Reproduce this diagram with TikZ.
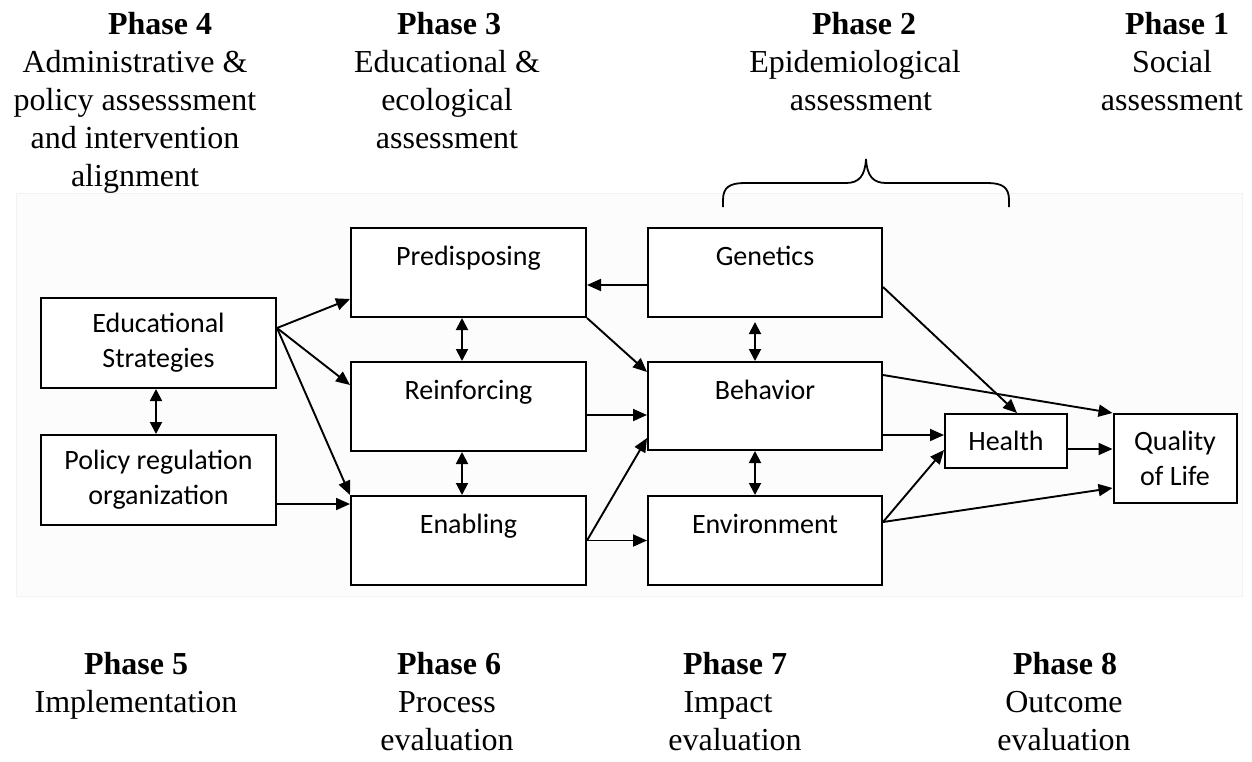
\documentclass[tikz,border=0pt]{standalone}
\usepackage{fontspec}
\setmainfont{Liberation Serif}
\newfontfamily\calfont{Carlito}
\usetikzlibrary{arrows.meta}
\begin{document}
\begin{tikzpicture}[x=1pt,y=-1pt,
  box/.style={draw, line width=2pt, inner sep=0pt, minimum width=235pt, minimum height=89pt,
    font=\calfont\fontsize{28}{35}\selectfont, align=center, fill=white},
  lab/.style={anchor=base, yshift=-38pt, inner sep=0pt, font=\calfont\fontsize{28}{35}\selectfont},
  hd/.style={anchor=base, inner sep=0pt, font=\fontsize{32}{38}\selectfont\bfseries},
  tx/.style={anchor=base, inner sep=0pt, font=\fontsize{32}{38}\selectfont},
  arr/.style={-{Triangle[length=14pt,width=12pt]}, line width=1.9pt},
  darr/.style={{Triangle[length=12pt,width=12pt]}-{Triangle[length=12pt,width=12pt]}, line width=1.9pt}
]
\useasboundingbox (0,0) rectangle (1252,761);
\fill[white] (0,0) rectangle (1252,761);
\draw[draw=black!5, fill=black!1] (16,193) rectangle (1242,596);

% phase texts (top)
\node[hd] (p4) at (160,34) {Phase 4};
\node[tx] (p4a) at (135,72) {Administrative \&};
\node[tx] (p4b) at (135,110) {policy assesssment};
\node[tx] (p4c) at (135,148) {and intervention};
\node[tx] (p4d) at (135,186) {alignment};
\node[hd] (p3) at (449,34) {Phase 3};
\node[tx] (p3a) at (447,72) {Educational \&};
\node[tx] (p3b) at (447,110) {ecological};
\node[tx] (p3c) at (447,148) {assessment};
\node[hd] (p2) at (864,34) {Phase 2};
\node[tx] (p2a) at (855,72) {Epidemiological};
\node[tx] (p2b) at (861,110) {assessment};
\node[hd] (p1) at (1177,34) {Phase 1};
\node[tx] (p1a) at (1172,72) {Social};
\node[tx] (p1b) at (1172,110) {assessment};
% phase texts (bottom)
\node[hd] (p5) at (136,674) {Phase 5};
\node[tx] (p5a) at (136,712) {Implementation};
\node[hd] (p6) at (449,674) {Phase 6};
\node[tx] (p6a) at (447,712) {Process};
\node[tx] (p6b) at (447,750) {evaluation};
\node[hd] (p7) at (735,674) {Phase 7};
\node[tx] (p7a) at (728,712) {Impact};
\node[tx] (p7b) at (735,750) {evaluation};
\node[hd] (p8) at (1065,674) {Phase 8};
\node[tx] (p8a) at (1064,712) {Outcome};
\node[tx] (p8b) at (1064,750) {evaluation};

% brace
\draw[line width=1.8pt] (723,207) -- (723,200) .. controls (723,187) and (730,183) .. (745,183)
  -- (846,183) .. controls (859,183) and (865,176) .. (866,159)
  .. controls (867,176) and (873,183) .. (886,183) -- (987,183)
  .. controls (1002,183) and (1009,187) .. (1009,200) -- (1009,207);

% boxes
\node[box, minimum height=90pt] (edu) at (158.5,343) {Educational\\Strategies};
\node[box, minimum height=90pt] (pol) at (158.5,480) {Policy regulation\\organization};
\node[box, label={[lab]north:Predisposing}] (pred) at (468.5,272.5) {};
\node[box, label={[lab]north:Reinforcing}] (reinf) at (468.5,406.5) {};
\node[box, label={[lab]north:Enabling}] (enab) at (468.5,540.5) {};
\node[box, minimum width=234pt, label={[lab]north:Genetics}] (gen) at (765,272.5) {};
\node[box, minimum width=234pt, minimum height=88pt, label={[lab]north:Behavior}] (beh) at (765,406) {};
\node[box, minimum width=234pt, label={[lab]north:Environment}] (env) at (765,540.5) {};
\node[box, minimum width=122pt, minimum height=54pt] (health) at (1006,441) {Health};
\node[box, minimum width=123pt, minimum height=89pt] (qol) at (1175,458.5) {Quality\\of Life};

% connectors
\coordinate (eduout) at ([yshift=15pt]edu.east);
\draw[arr] (eduout) -- ([yshift=-26.5pt]pred.west);
\draw[arr] (eduout) -- ([yshift=21.5pt]reinf.west);
\draw[arr] (eduout) -- (enab.north west);
\coordinate (polout) at ([yshift=-24pt]pol.east);
\draw[arr] (polout) -- (polout -| enab.west);
\draw[darr] ([xshift=-2.5pt]edu.south) -- ([xshift=-2.5pt]pol.north);
\draw[darr] ([xshift=-6.5pt]pred.south) -- ([xshift=-6.5pt]reinf.north);
\draw[darr] ([xshift=-6.5pt]reinf.south) -- ([xshift=-6.5pt]enab.north);
\draw[darr] ([xshift=-10pt,yshift=-4pt]gen.south) -- ([xshift=-10pt]beh.north);
\draw[darr] ([xshift=-10pt]beh.south) -- ([xshift=-10pt]env.north);
\coordinate (genout) at ([yshift=-12.5pt]gen.west);
\draw[arr] (genout) -- (genout -| pred.east);
\draw[arr] (pred.south east) -- ([yshift=34pt]beh.west);
\coordinate (reinfout) at ([yshift=-8.5pt]reinf.east);
\draw[arr] (reinfout) -- (reinfout -| beh.west);
\draw[arr] (enab.east) -- ([yshift=-32pt]beh.west);
\draw[arr] (enab.east) -- (env.west);
\draw[arr] ([yshift=-14.5pt]gen.east) -- ([xshift=11pt]health.north);
\draw[arr] ([yshift=31pt]beh.east) -- (qol.north west);
\coordinate (behout) at ([yshift=-29pt]beh.east);
\draw[arr] (behout) -- (behout -| health.west);
\coordinate (envout) at ([yshift=18.5pt]env.east);
\draw[arr] (envout) -- ([yshift=-9pt]health.west);
\draw[arr] (envout) -- ([yshift=-29.5pt]qol.west);
\coordinate (healthout) at ([yshift=-8pt]health.east);
\draw[arr] (healthout) -- (healthout -| qol.west);
\end{tikzpicture}
\end{document}
